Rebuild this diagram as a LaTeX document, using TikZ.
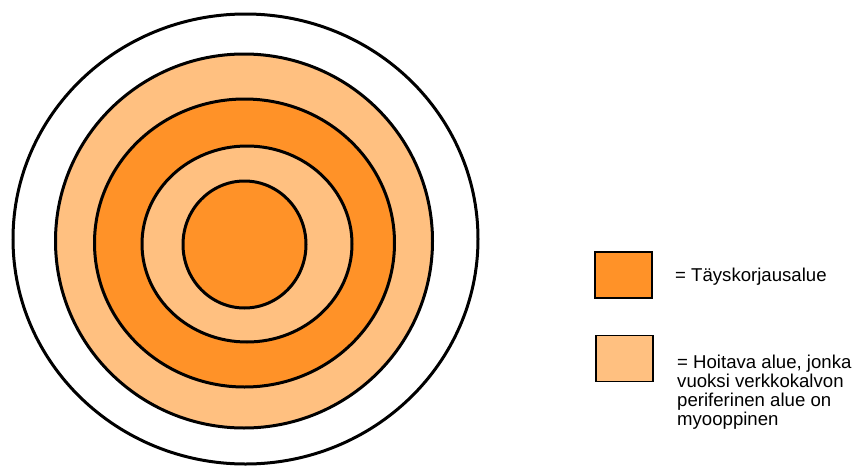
\documentclass[tikz,border=0pt]{standalone}
\usepackage{fontspec}
\setmainfont{Liberation Sans}
\usepackage{tikz}
\definecolor{fullzone}{RGB}{255,146,40}
\definecolor{partzone}{RGB}{255,192,128}

\begin{document}
\begin{tikzpicture}[x=1pt,y=-1pt,ring/.style={draw=black,line width=3pt},
  key/.style={draw=black,line width=1.2pt,minimum width=57pt,minimum height=46pt,inner sep=0pt},
  lbl/.style={inner sep=0pt,font=\fontsize{18.6}{19}\selectfont,align=left}]
\useasboundingbox (0,0) rectangle (855,466);
% rings, outer to inner
\filldraw[ring,fill=white] (245.5,239) ellipse [x radius=232.5pt, y radius=225pt];
\filldraw[ring,fill=partzone] (244,241) ellipse [x radius=188.5pt, y radius=187pt];
\filldraw[ring,fill=fullzone] (244.5,243) ellipse [x radius=150pt, y radius=144pt];
\filldraw[ring,fill=partzone] (247,244) ellipse [x radius=105pt, y radius=98pt];
\filldraw[ring,fill=fullzone] (244.5,244.5) ellipse [x radius=61.5pt, y radius=63.5pt];
% legend
\node[key,fill=fullzone] (fullkey) at (623.5,275) {};
\node[key,fill=partzone] (partkey) at (624.5,358.5) {};
\node[lbl,anchor=base west] (fulltxt) at (675,281) {= Täyskorjausalue};
\node[lbl,anchor=north west] (parttxt) at (677,355) {= Hoitava alue, jonka\\vuoksi verkkokalvon\\periferinen alue on\\myooppinen};
\end{tikzpicture}
\end{document}
